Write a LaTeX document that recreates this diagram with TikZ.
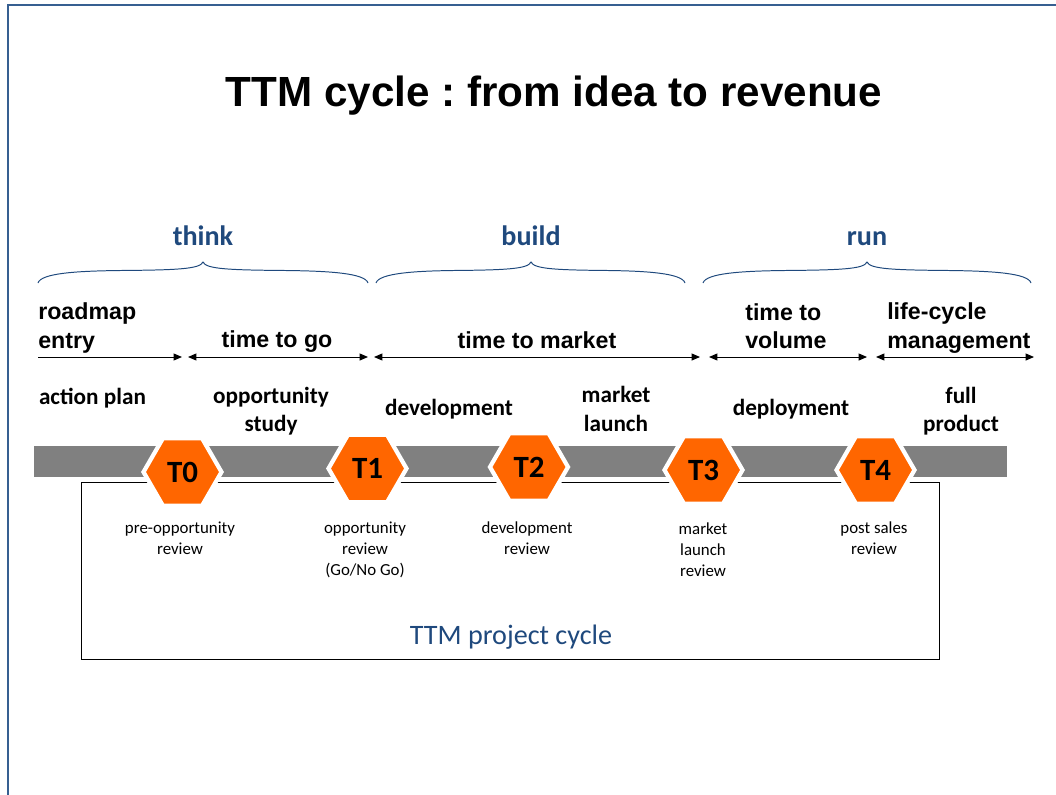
\documentclass[tikz,border=0pt]{standalone}
\usepackage{fontspec}
\setmainfont{Liberation Sans}
\newfontfamily\calibri{Carlito}
\usetikzlibrary{shapes.geometric,arrows.meta}
\definecolor{ttmblue}{RGB}{31,73,125}
\definecolor{frameblue}{RGB}{54,95,145}
\definecolor{ttmorange}{RGB}{255,102,0}
\definecolor{bargray}{RGB}{128,128,128}
\frenchspacing

\begin{document}
\begin{tikzpicture}[x=0.025cm, y=-0.025cm,
  phase/.style={anchor=base, inner sep=0pt, text=ttmblue,
    font=\calibri\bfseries\fontsize{20}{24}\selectfont},
  span/.style={inner sep=0pt, align=left,
    font=\bfseries\fontsize{16.5}{20}\selectfont},
  work/.style={inner sep=0pt, align=center,
    font=\calibri\bfseries\fontsize{16.5}{20}\selectfont},
  gate/.style={regular polygon, regular polygon sides=6, minimum size=1.95cm,
    inner sep=0pt, fill=ttmorange, draw=white, line width=3pt,
    font=\calibri\bfseries\fontsize{22}{24}\selectfont},
  review/.style={inner sep=0pt, align=center,
    font=\calibri\fontsize{12}{15}\selectfont},
  interval/.style={line width=0.7pt,
    {Triangle[length=6pt,width=5pt]}-{Triangle[length=6pt,width=5pt]}},
  brace/.style={ttmblue, line width=0.7pt}]
  \useasboundingbox (0,0) rectangle (1056,794);

  % slide frame
  \draw[frameblue, line width=1.6pt] (1070,5) -- (8,5) -- (8,810);

  \node[anchor=base, font=\bfseries\fontsize{30}{36}\selectfont] (title) at (554,107)
    {TTM cycle : from idea to revenue};

  % think / build / run
  \node[phase] (think) at (203,245) {think};
  \node[phase] (build) at (531,245) {build};
  \node[phase] (run) at (867,245) {run};
  \foreach \a/\m/\b in {38/203/368, 376/531/685, 703/867/1031} {
    \draw[brace] (\a,283) .. controls (\a+3,273) and (\a+40,271) .. ({(\a+\m)/2},270.5)
      .. controls (\m-25,270) and (\m-3,269) .. (\m,262)
      .. controls (\m+3,269) and (\m+25,270) .. ({(\m+\b)/2},270.5)
      .. controls (\b-40,271) and (\b-3,273) .. (\b,283);
  }

  % durations
  \node[span, anchor=west] (entry) at (38,328) {roadmap\\entry};
  \node[span] (go) at (277,342) {time to go};
  \node[span] (market) at (537,340) {time to market};
  \node[span, anchor=west] (volume) at (745,326) {time to\\volume};
  \node[span, anchor=west] (lcm) at (887,328) {life-cycle\\management};

  \coordinate (e0) at (38,357);   \coordinate (e1) at (182,357);
  \coordinate (g0) at (188,357);  \coordinate (g1) at (368,357);
  \coordinate (m0) at (374,357);  \coordinate (m1) at (700,357);
  \coordinate (v0) at (709,357);  \coordinate (v1) at (867,357);
  \coordinate (l0) at (876,357);  \coordinate (l1) at (1034,357);
  \draw[line width=0.7pt, -{Triangle[length=6pt,width=5pt]}] (e0) -- (e1);
  \draw[interval] (g0) -- (g1);
  \draw[interval] (m0) -- (m1);
  \draw[interval] (v0) -- (v1);
  \draw[interval] (l0) -- (l1);

  % activities
  \node[work] (plan) at (92.5,398) {action plan};
  \node[work] (study) at (271,411) {opportunity\\study};
  \node[work] (dev) at (449,409) {development};
  \node[work] (launch) at (616,409) {market\\launch};
  \node[work] (deploy) at (791,409) {deployment};
  \node[work] (full) at (961,411) {full\\product};

  % timeline, project box and milestones
  \fill[bargray] (34,446) rectangle (1007,477);
  \draw[line width=0.7pt] (81,482) rectangle (939,659);
  \node[text=ttmblue, font=\calibri\fontsize{20}{24}\selectfont] (cycle) at (511,637)
    {TTM project cycle};

  \foreach \n/\x/\y in {0/182.5/472, 1/367.5/468.5, 2/529/467, 3/703.5/470, 4/875.5/470}
    \node[gate] (t\n) at (\x,\y) {T\n};

  \node[review] (r0) at (180,538.5) {pre-opportunity\\review};
  \node[review] (r1) at (365,549.5) {opportunity\\review\\(Go/No Go)};
  \node[review] (r2) at (527,538.5) {development\\review};
  \node[review] (r3) at (703,549.5) {market\\launch\\review};
  \node[review] (r4) at (874,538.5) {post sales\\review};
\end{tikzpicture}
\end{document}
